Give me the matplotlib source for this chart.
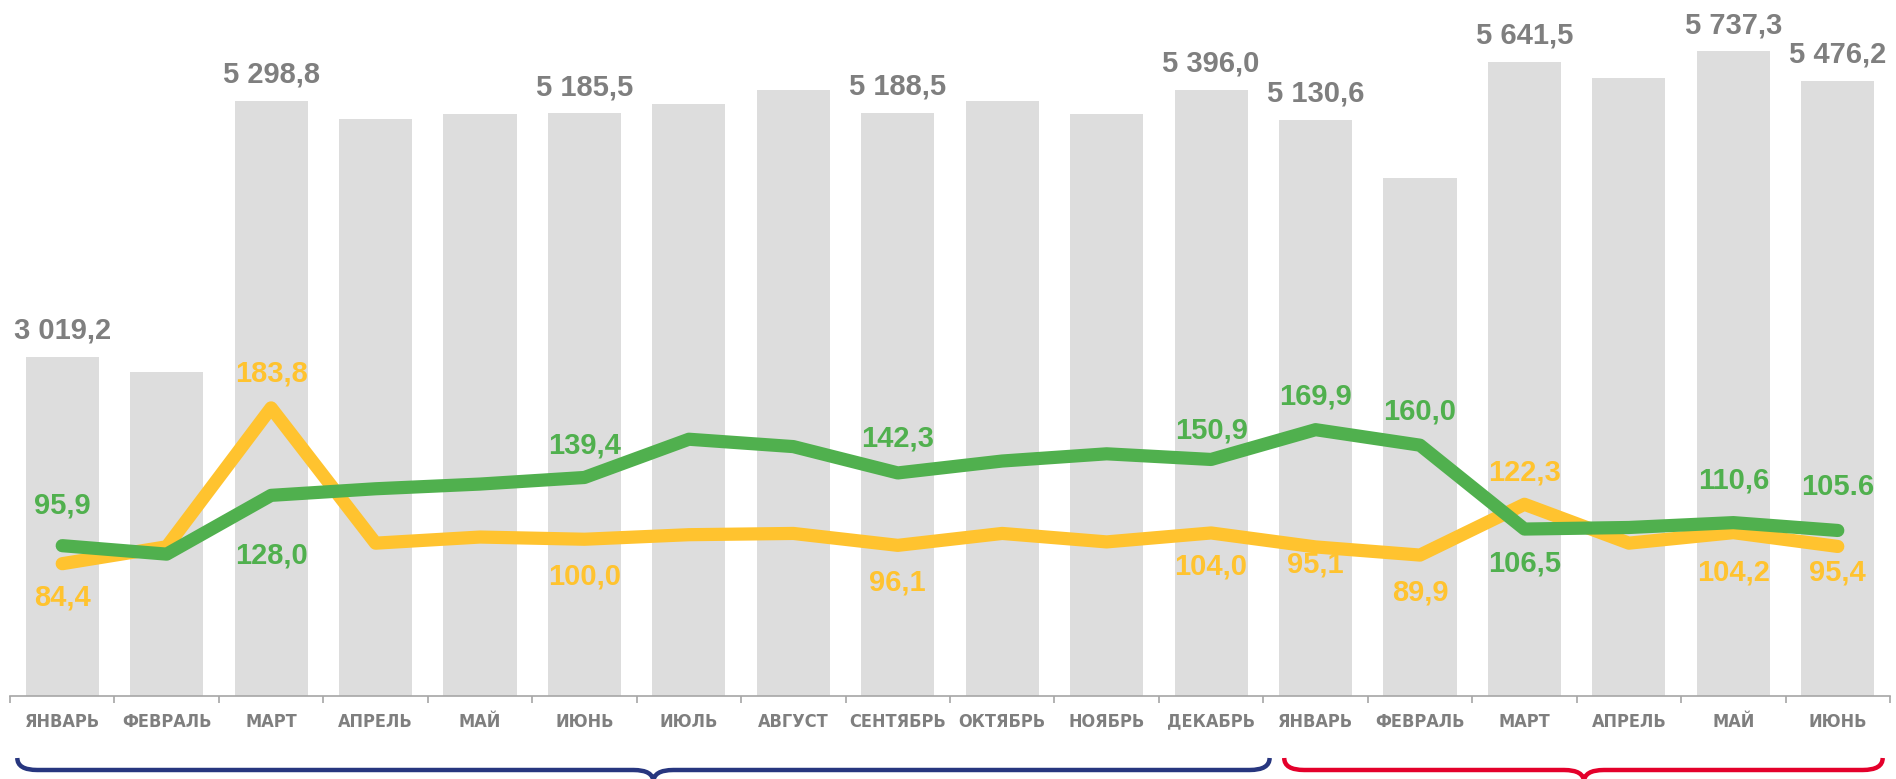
import matplotlib
matplotlib.use("Agg")
import matplotlib.pyplot as plt
from matplotlib.path import Path
from matplotlib.patches import PathPatch

months = ["ЯНВАРЬ", "ФЕВРАЛЬ", "МАРТ", "АПРЕЛЬ", "МАЙ", "ИЮНЬ", "ИЮЛЬ",
          "АВГУСТ", "СЕНТЯБРЬ", "ОКТЯБРЬ", "НОЯБРЬ", "ДЕКАБРЬ",
          "ЯНВАРЬ", "ФЕВРАЛЬ", "МАРТ", "АПРЕЛЬ", "МАЙ", "ИЮНЬ"]

volume = [3019.2, 2880, 5298.8, 5138, 5182, 5185.5, 5268, 5397, 5188.5,
          5300, 5182, 5396.0, 5130.6, 4612, 5641.5, 5504, 5737.3, 5476.2]
volume_labels = {0: "3 019,2", 2: "5 298,8", 5: "5 185,5", 8: "5 188,5",
                 11: "5 396,0", 12: "5 130,6", 14: "5 641,5",
                 16: "5 737,3", 17: "5 476,2"}

green = [95.9, 90.5, 128.0, 132.2, 135.2, 139.4, 163.8, 159.1, 142.3,
         149.9, 154.5, 150.9, 169.9, 160.0, 106.5, 107.5, 110.6, 105.6]
green_labels = {0: "95,9", 2: "128,0", 5: "139,4", 8: "142,3", 11: "150,9",
                12: "169,9", 13: "160,0", 14: "106,5", 16: "110,6",
                17: "105.6"}

yellow = [84.4, 95.2, 183.8, 97.5, 101.4, 100.0, 102.9, 103.7, 96.1,
          103.7, 98.3, 104.0, 95.1, 89.9, 122.3, 97.5, 104.2, 95.4]
yellow_labels = {0: "84,4", 2: "183,8", 5: "100,0", 8: "96,1", 11: "104,0",
                 12: "95,1", 13: "89,9", 14: "122,3", 16: "104,2", 17: "95,4"}

# label offsets in points (positive = above the point)
green_dy = {0: 29, 2: -43, 5: 23, 8: 25, 11: 21, 12: 24, 13: 24,
            14: -25, 16: 30, 17: 31}
yellow_dy = {0: -24, 2: 25, 5: -27, 8: -27, 11: -24, 12: -13, 13: -27,
             14: 23, 16: -29, 17: -19}

GREEN = "#50B04E"
YELLOW = "#FFC32F"
BAR = "#DDDDDD"
GREY_TXT = "#7F7F7F"
NUM_FONT = ["Liberation Sans", "DejaVu Sans"]

fig = plt.figure(figsize=(18.96, 7.79), dpi=100)
ax = fig.add_axes([10 / 1896, 83 / 779, 1880 / 1896, 696 / 779])
x = list(range(len(months)))

ax.bar(x, volume, width=0.7, color=BAR, zorder=1)
ax.set_xlim(-0.5, len(months) - 0.5)
ax.set_ylim(0, 6195)

for i, txt in volume_labels.items():
    ax.annotate(txt, (i, volume[i]), xytext=(0, 19), textcoords="offset points",
                ha="center", va="center", fontsize=21, fontweight="bold",
                color=GREY_TXT, family=NUM_FONT, annotation_clip=False)

for s in ["top", "left", "right"]:
    ax.spines[s].set_visible(False)
ax.spines["bottom"].set_color("#A6A6A6")
ax.spines["bottom"].set_linewidth(1.2)
ax.set_yticks([])
ax.set_xticks([i - 0.5 for i in range(len(months) + 1)])
ax.set_xticklabels([])
ax.tick_params(axis="x", which="major", length=5, color="#A6A6A6", width=1.2)
ax.set_xticks(x, minor=True)
ax.set_xticklabels(months, minor=True, fontsize=13, fontweight="bold",
                   fontstretch="condensed", color=GREY_TXT,
                   family="DejaVu Sans")
ax.tick_params(axis="x", which="minor", length=0, pad=12)

ax2 = ax.twinx()
ax2.set_ylim(0, 444)
ax2.axis("off")
ax2.plot(x, yellow, color=YELLOW, lw=9.5, solid_capstyle="round",
         solid_joinstyle="round", zorder=2)
ax2.plot(x, green, color=GREEN, lw=9.5, solid_capstyle="round",
         solid_joinstyle="round", zorder=3)

for vals, labels, dys, col in [(green, green_labels, green_dy, GREEN),
                               (yellow, yellow_labels, yellow_dy, YELLOW)]:
    for i, txt in labels.items():
        ax2.annotate(txt, (i, vals[i]), xytext=(0, dys[i]),
                     textcoords="offset points", ha="center", va="center",
                     fontsize=21, fontweight="bold", color=col,
                     family=NUM_FONT, zorder=5)


def brace(x0, x1, xc, color):
    # curly brace under the axis, drawn in figure pixels
    px0 = ax.transData.transform((x0, 0))[0]
    px1 = ax.transData.transform((x1, 0))[0]
    pxc = ax.transData.transform((xc, 0))[0]
    top, mid, bot, r = 21, 9, -3, 20
    verts = [(px0, top), (px0, mid), (px0 + r, mid), (pxc - r, mid),
             (pxc, mid), (pxc, bot), (pxc, mid), (pxc + r, mid),
             (px1 - r, mid), (px1, mid), (px1, top)]
    codes = [Path.MOVETO, Path.CURVE3, Path.CURVE3, Path.LINETO,
             Path.CURVE3, Path.CURVE3, Path.CURVE3, Path.CURVE3,
             Path.LINETO, Path.CURVE3, Path.CURVE3]
    patch = PathPatch(Path(verts, codes), facecolor="none", edgecolor=color,
                      lw=3.2, transform=None, clip_on=False)
    fig.add_artist(patch)


brace(-0.43, 11.56, 5.66, "#27367F")
brace(11.70, 17.43, 14.57, "#E4002B")

fig.savefig("out.png", dpi=100)
